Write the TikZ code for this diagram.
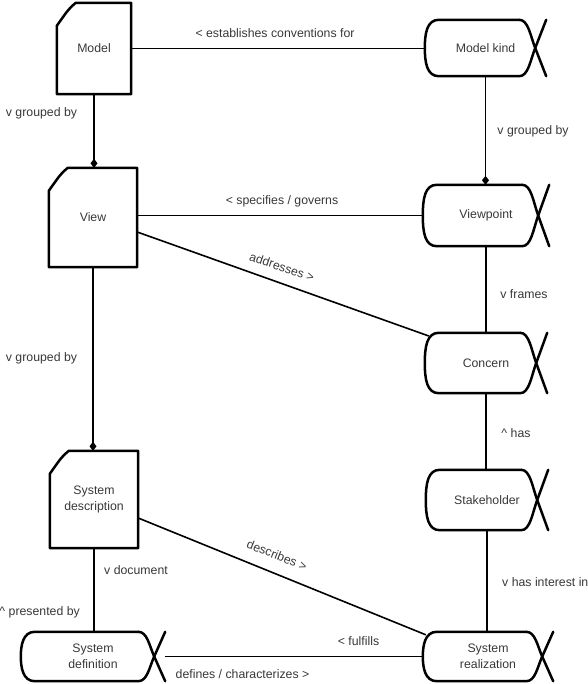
\documentclass[tikz,border=0pt]{standalone}
\usepackage{fontspec}
\setmainfont{Liberation Sans}
\usetikzlibrary{arrows.meta,calc}
\newcommand\docshape[1]{%
  \draw[outline] (#1.south west) -- (#1.south east) -- (#1.north east) -- ([xshift=19pt]#1.north west)
    .. controls ([xshift=12pt,yshift=-6pt]#1.north west) .. ([yshift=-23pt]#1.north west) -- cycle;}
\newcommand\fishshape[1]{%
  \coordinate (#1-tip) at ([xshift=-11pt]#1.east);
  \draw[outline] ([xshift=-27pt]#1.north east) -- ([xshift=14pt]#1.north west)
    .. controls ([xshift=2pt]#1.north west) and ([yshift=-14pt]#1.north west) .. (#1.west)
    .. controls ([yshift=14pt]#1.south west) and ([xshift=2pt]#1.south west) .. ([xshift=14pt]#1.south west)
    -- ([xshift=-27pt]#1.south east)
    .. controls ([xshift=-18pt]#1.south east) and ($(#1-tip)!-0.45!(#1.north east)$) .. (#1-tip) -- (#1.north east);
  \draw[outline] ([xshift=-27pt]#1.north east)
    .. controls ([xshift=-18pt]#1.north east) and ($(#1-tip)!-0.45!(#1.south east)$) .. (#1-tip) -- (#1.south east);}
\begin{document}
\begin{tikzpicture}[x=1pt,y=-1pt,
  txt/.style={font=\fontsize{12.3}{15.5}\selectfont, text=black!78},
  lbl/.style={txt, inner sep=0pt},
  box/.style={txt, rectangle, draw=none, inner sep=0pt, align=center},
  outline/.style={line width=2.5pt, line join=round, line cap=round},
  conn/.style={line width=1.6pt},
  agg/.style={conn, -{Diamond[width=7pt,length=9pt]}}]
\useasboundingbox (0,0) rectangle (587,684);
% document-like nodes
\node[box, minimum width=74pt, minimum height=91pt] (model) at (94,48.5) {Model};
\node[box, minimum width=88pt, minimum height=99pt] (view) at (93,217.5) {View};
\node[box, minimum width=88pt, minimum height=97pt] (desc) at (94,499.5) {System\\description};
\docshape{model}
\docshape{view}
\docshape{desc}
% tailed nodes
\node[box, minimum width=121pt, minimum height=56pt] (mk) at (485.5,48) {Model kind};
\node[box, minimum width=126pt, minimum height=61pt] (vp) at (486,215.5) {Viewpoint};
\node[box, minimum width=122pt, minimum height=60pt] (con) at (486,363) {Concern};
\node[box, minimum width=122pt, minimum height=60pt] (stk) at (487,500) {Stakeholder};
\node[box, minimum width=130pt, minimum height=49pt] (sr) at (488,656.5) {System\\realization};
\node[box, minimum width=144pt, minimum height=49pt] (sdef) at (93,656.5) {System\\definition};
\fishshape{mk}
\fishshape{vp}
\fishshape{con}
\fishshape{stk}
\fishshape{sr}
\fishshape{sdef}
% connectors
\draw[conn] (model.east) -- (model.east -| mk.west);
\draw[agg] (mk.south) -- (mk.south |- vp.north);
\draw[conn] (vp.west -| view.east) -- (vp.west);
\draw[conn] ([yshift=-14.5pt]view.east) -- ([xshift=4pt,yshift=27pt]con.west);
\draw[conn] (vp.south) -- (vp.south |- con.north);
\draw[conn] (con.south) -- (con.south |- stk.north);
\draw[conn] (stk.south) -- (stk.south |- sr.north);
\draw[agg] (model.south) -- (model.south |- view.north);
\draw[agg] (view.south) -- (view.south |- desc.north);
\draw[conn] ([yshift=-18.5pt]desc.east) -- ([xshift=3pt,yshift=-3pt]sr.north west);
\draw[conn] (desc.south) -- (desc.south |- sdef.north);
\draw[conn] (sdef.east) -- (sdef.east -| sr.west);
% labels
\node[lbl] (l1) at (275,33) {< establishes conventions for};
\node[lbl] (l2) at (41.5,113) {v grouped by};
\node[lbl] (l3) at (533,131) {v grouped by};
\node[lbl] (l4) at (282,201) {< specifies / governs};
\node[lbl, rotate=-19] (l5) at (282,267) {addresses >};
\node[lbl] (l6) at (524,294) {v frames};
\node[lbl] (l7) at (41.5,358) {v grouped by};
\node[lbl] (l8) at (516,433) {\^{} has};
\node[lbl, rotate=-21.5] (l9) at (277,555) {describes >};
\node[lbl] (l10) at (136,570) {v document};
\node[lbl, anchor=east] (l11) at (80,612) {\^{} presented by};
\node[lbl, anchor=west] (l12) at (502,582) {v has interest in};
\node[lbl] (l13) at (358.5,641) {< fulfills};
\node[lbl] (l14) at (242.5,674) {defines / characterizes >};
\end{tikzpicture}
\end{document}
